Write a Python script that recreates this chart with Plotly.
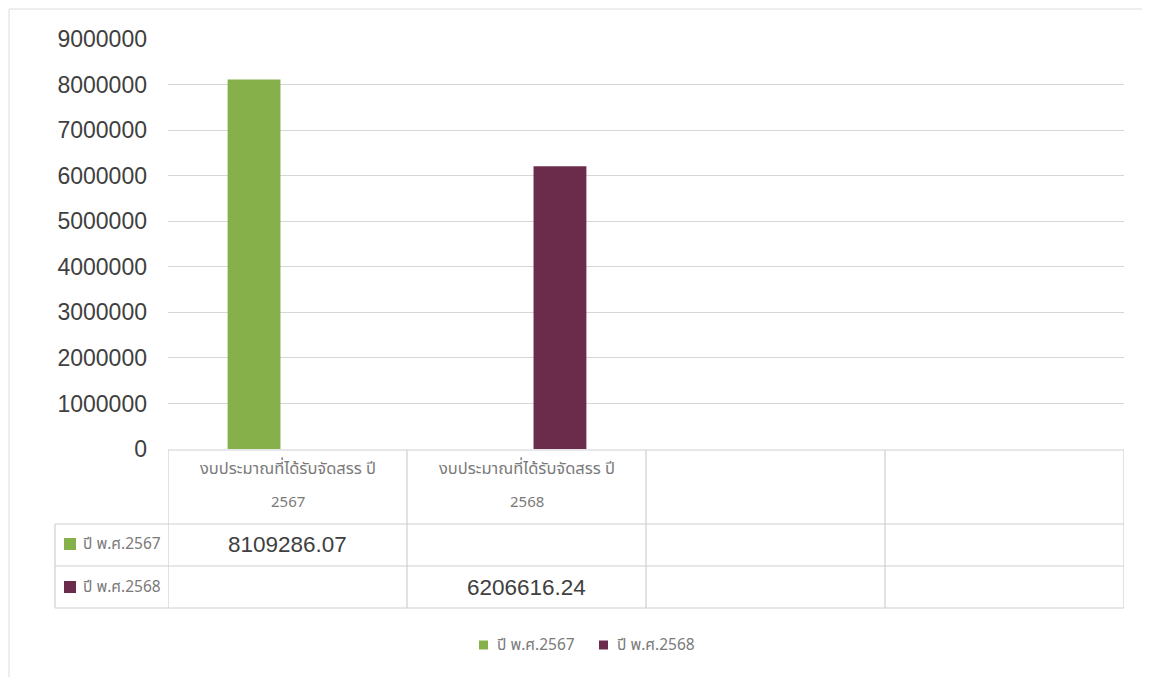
import plotly.graph_objects as go

# ---------------- data ----------------
categories = ["งบประมาณที่ได้รับจัดสรร ปี 2567", "งบประมาณที่ได้รับจัดสรร ปี 2568", "", ""]
series_names = ["ปี พ.ศ.2567", "ปี พ.ศ.2568"]
values_2567 = [8109286.07, None, None, None]
values_2568 = [None, 6206616.24, None, None]
value_labels_2567 = ["8109286.07", "", "", ""]
value_labels_2568 = ["", "6206616.24", "", ""]
y_ticks = [0, 1000000, 2000000, 3000000, 4000000, 5000000, 6000000, 7000000, 8000000, 9000000]
y_tick_labels = ["0", "1000000", "2000000", "3000000", "4000000", "5000000",
                 "6000000", "7000000", "8000000", "9000000"]

# ---------------- styling ----------------
W, H = 1150, 677
OFF = 8  # page body margin
# plot area in screen pixels
SL, SR, ST, SB = 168, 1124, 39, 449
L, R, T, B = SL - OFF, SR - OFF, ST - OFF, SB - OFF
colors = ["#86b04a", "#6b2c4b"]
grid = "#d6d6d6"
line_c = "#cfcfd4"
thai_font = "Noto Sans Thai, Noto Sans, Liberation Sans, sans-serif"
num_font = "Liberation Sans, Arial, sans-serif"
gray_text = "#7a7a7a"


def px2x(px):
    return (px - SL) / (SR - SL)


def py2y(py):
    return (SB - py) / (SB - ST)


xs = list(range(len(categories)))
series_values = [values_2567, values_2568]
series_labels = [value_labels_2567, value_labels_2568]

fig = go.Figure()
for name, vals, col in zip(series_names, series_values, colors):
    fig.add_trace(go.Bar(x=xs, y=vals, name=name, marker=dict(color=col, line=dict(width=0))))

shapes = []
annotations = []

# chart outer border
shapes.append(dict(type="rect", xref="paper", yref="paper",
                   x0=px2x(9), x1=px2x(1146), y0=py2y(700), y1=py2y(9),
                   line=dict(color="#dcdcdc", width=1), layer="below"))

# data table lines
row_tops = [450, 524, 566, 608]
for i, py in enumerate(row_tops):
    x0 = 0 if i == 0 else px2x(55)
    shapes.append(dict(type="line", xref="paper", yref="paper",
                       x0=x0, x1=1, y0=py2y(py), y1=py2y(py),
                       line=dict(color=line_c, width=1.2)))
for k in range(len(categories) + 1):
    shapes.append(dict(type="line", xref="x", yref="paper",
                       x0=k - 0.5, x1=k - 0.5, y0=py2y(608), y1=py2y(450),
                       line=dict(color=line_c, width=1.2)))
shapes.append(dict(type="line", xref="paper", yref="paper",
                   x0=px2x(55), x1=px2x(55), y0=py2y(608), y1=py2y(524),
                   line=dict(color=line_c, width=1.2)))

# header texts (two lines)
for j, cat in enumerate(categories):
    if not cat:
        continue
    first, second = cat.rsplit(" ", 1)
    annotations.append(dict(x=j, y=py2y(468), xref="x", yref="paper", text=first,
                            xanchor="center", yanchor="middle", showarrow=False,
                            font=dict(family=thai_font, size=16.5, color=gray_text)))
    annotations.append(dict(x=j, y=py2y(502), xref="x", yref="paper", text=second,
                            xanchor="center", yanchor="middle", showarrow=False,
                            font=dict(family=thai_font, size=15, color=gray_text)))

# row labels and values
row_centers = [544, 587]
for i, (name, labels, col) in enumerate(zip(series_names, series_labels, colors)):
    yc = row_centers[i]
    shapes.append(dict(type="rect", xref="paper", yref="paper",
                       x0=px2x(64), x1=px2x(76), y0=py2y(yc + 6), y1=py2y(yc - 6),
                       fillcolor=col, line=dict(width=0)))
    annotations.append(dict(x=px2x(81), y=py2y(yc), xref="paper", yref="paper", text=name,
                            xanchor="left", yanchor="middle", showarrow=False,
                            font=dict(family=thai_font, size=15.5, color=gray_text)))
    for j, lab in enumerate(labels):
        if lab:
            annotations.append(dict(x=j, y=py2y(yc), xref="x", yref="paper", text=lab,
                                    xanchor="center", yanchor="middle", showarrow=False,
                                    font=dict(family=num_font, size=22.5, color="#404040")))

# legend (drawn manually)
legend_x = [479, 599]
legend_y = 645
for name, col, lx in zip(series_names, colors, legend_x):
    shapes.append(dict(type="rect", xref="paper", yref="paper",
                       x0=px2x(lx), x1=px2x(lx + 9), y0=py2y(legend_y + 4.5), y1=py2y(legend_y - 4.5),
                       fillcolor=col, line=dict(width=0)))
    annotations.append(dict(x=px2x(lx + 16), y=py2y(legend_y), xref="paper", yref="paper",
                            text=name, xanchor="left", yanchor="middle", showarrow=False,
                            font=dict(family=thai_font, size=15.5, color=gray_text)))

fig.update_layout(
    width=W, height=H,
    margin=dict(l=L, r=W - R, t=T, b=H - B, autoexpand=False),
    paper_bgcolor="white", plot_bgcolor="white",
    barmode="group", bargap=0.44, bargroupgap=0.21,
    showlegend=False,
    xaxis=dict(range=[-0.5, len(categories) - 0.5], showticklabels=False, showgrid=False,
               zeroline=False, showline=False, fixedrange=True),
    yaxis=dict(range=[0, 9000000], tickvals=y_ticks, ticktext=y_tick_labels,
               showgrid=True, gridcolor=grid, gridwidth=1.2, zeroline=False, showline=False,
               tickfont=dict(family=num_font, size=23, color="#404040"),
               ticklabelstandoff=20, fixedrange=True),
    shapes=shapes, annotations=annotations,
)

fig.write_html("out.html")
